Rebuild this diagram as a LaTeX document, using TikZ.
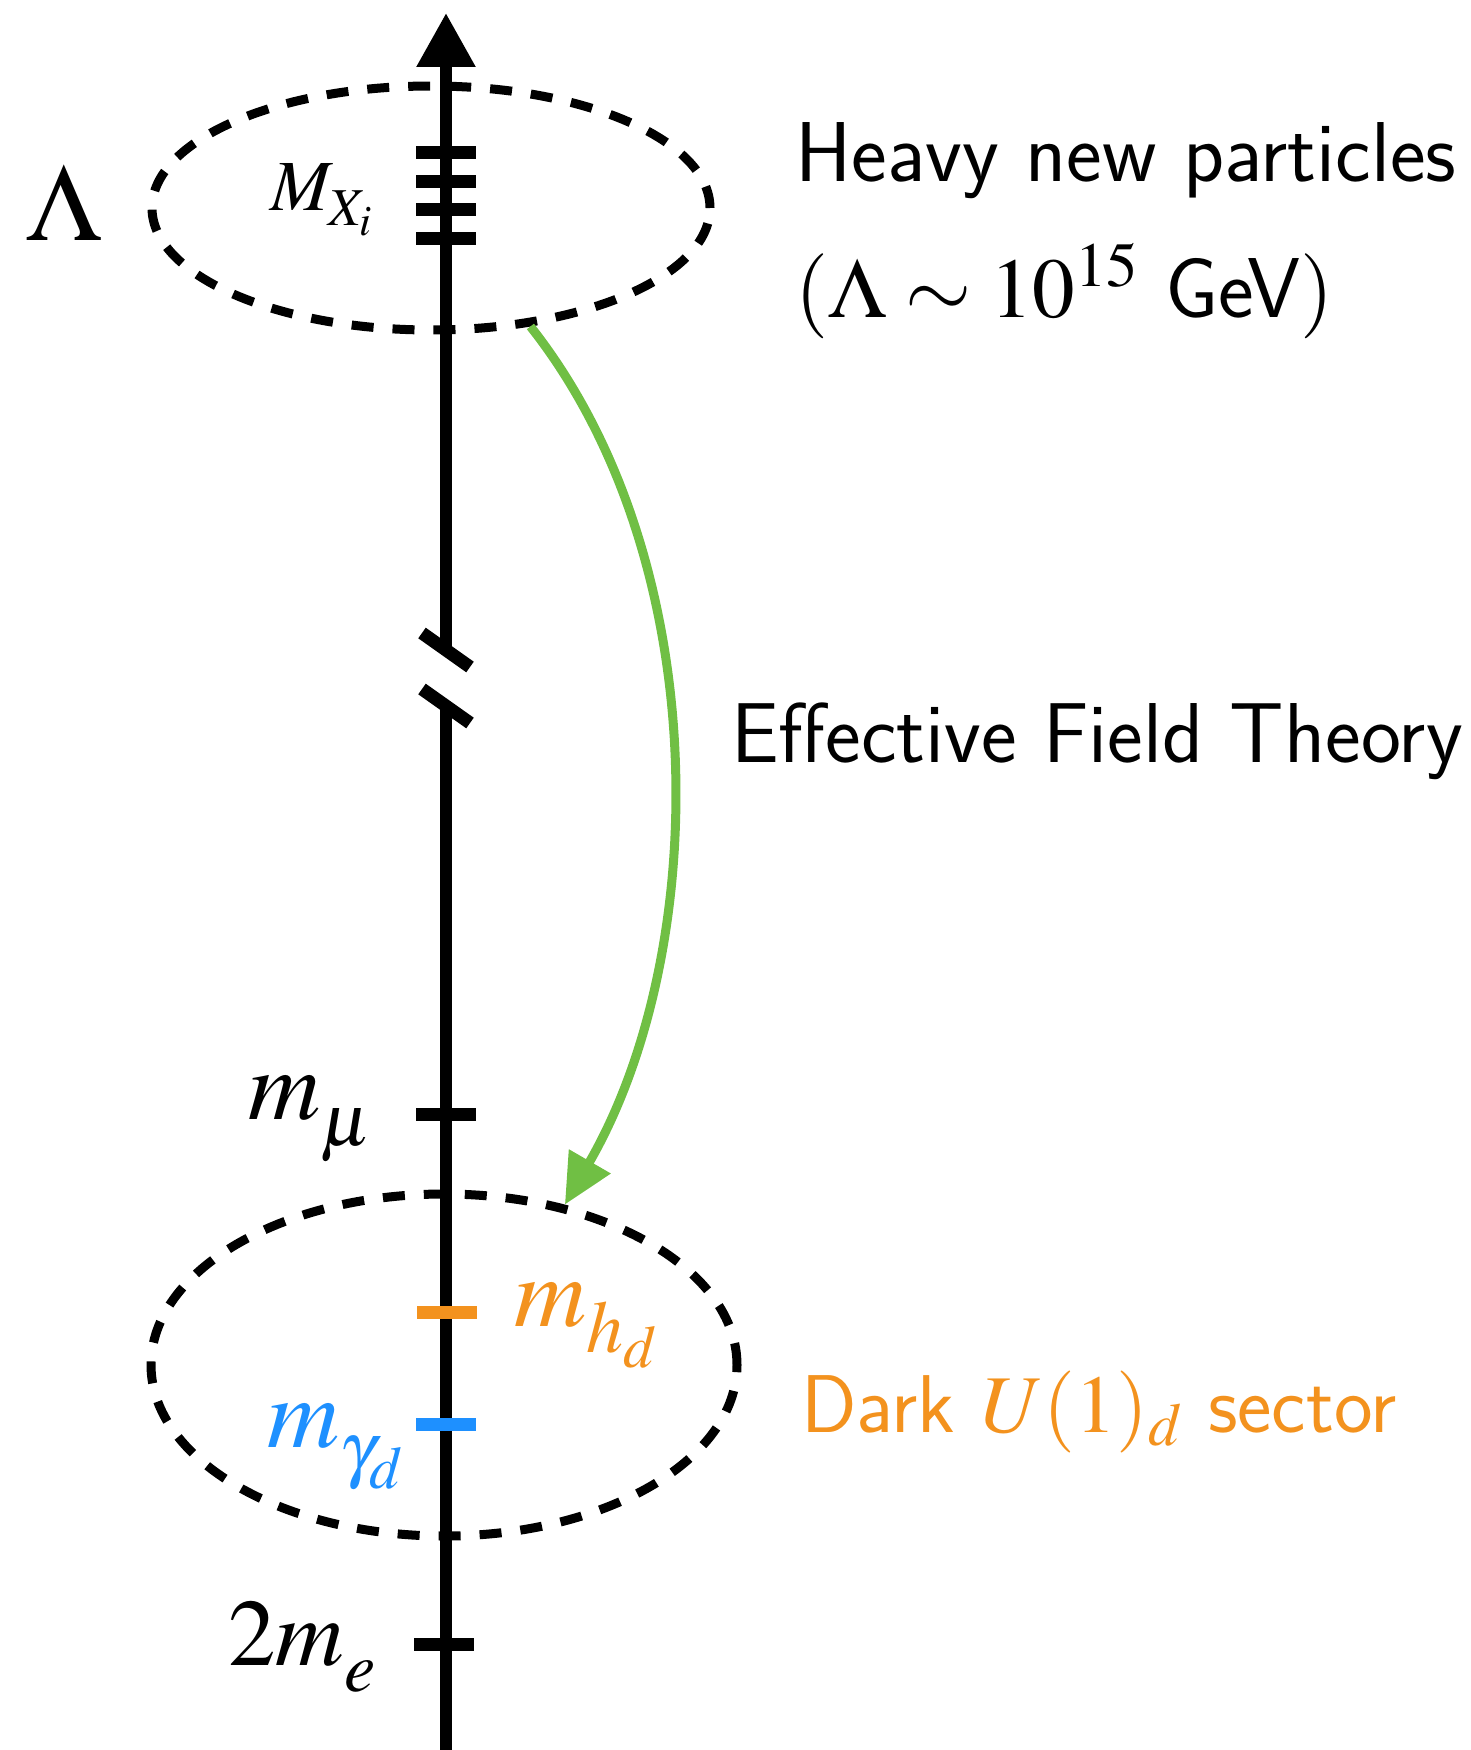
\documentclass[tikz,border=0pt]{standalone}
\usepackage{mathptmx}
\usetikzlibrary{arrows.meta,shapes.geometric}
\definecolor{dorange}{RGB}{243,146,30}
\definecolor{dblue}{RGB}{30,144,255}
\definecolor{egreen}{RGB}{112,191,68}
\newcommand{\lowsub}[2]{\lower#1\hbox{$\scriptstyle #2$}}
\tikzset{
  axisline/.style={line width=12pt},
  tickmark/.style={line width=13pt},
  breakmark/.style={line width=13pt},
  region/.style={ellipse, draw, line width=9pt, dash pattern=on 22pt off 19pt, inner sep=0pt},
  eftarrow/.style={line width=9pt, draw=egreen, -{Triangle[length=50pt,width=46pt,fill=egreen]}},
  sidetext/.style={anchor=base west, inner sep=0pt, font=\fontsize{85}{100}\selectfont\sffamily},
  masslabel/.style={anchor=base west, inner sep=0pt, font=\fontsize{100}{120}\selectfont},
}
\begin{document}
\begin{tikzpicture}[x=1pt,y=-1pt]
\useasboundingbox (0,0) rectangle (1470,1750);

% regions
\node[region, minimum width=558pt, minimum height=244pt] (top) at (431,208) {};
\node[region, minimum width=586pt, minimum height=342pt] (bot) at (444,1365) {};

% axis coordinates
\coordinate (axtop) at (446,13);
\coordinate (brkA) at (446,650);
\coordinate (brkB) at (446,706);
\coordinate (axbot) at (446,1752);
\coordinate (tx1) at (446,152);
\coordinate (tx2) at (446,181);
\coordinate (tx3) at (446,209);
\coordinate (tx4) at (446,238);
\coordinate (tmu) at (446,1114);
\coordinate (thd) at (447,1312);
\coordinate (tgd) at (446,1424);
\coordinate (te) at (444,1644);

% axis
\draw[axisline, -{Triangle[length=54pt,width=56pt]}] (brkA) -- (axtop);
\draw[axisline] (brkB) -- (axbot);
\draw[breakmark] ([shift={(-24pt,17pt)}]brkA) -- ([shift={(24pt,-17pt)}]brkA);
\draw[breakmark] ([shift={(-24pt,17pt)}]brkB) -- ([shift={(24pt,-17pt)}]brkB);

% ticks
\foreach \t in {tx1,tx2,tx3,tx4,tmu,te}
  \draw[tickmark] ([xshift=-30pt]\t) -- ([xshift=30pt]\t);
\draw[tickmark, dorange] ([xshift=-30pt]thd) -- ([xshift=30pt]thd);
\draw[tickmark, dblue] ([xshift=-30pt]tgd) -- ([xshift=30pt]tgd);

% EFT arrow
\draw[eftarrow] (top.-50) .. controls (715,560) and (712,950) .. (bot.53);

% labels
\node[anchor=base, inner sep=0pt, font=\fontsize{110}{130}\selectfont] (lam) at (64,240) {$\Lambda$};
\node[anchor=base west, inner sep=0pt, font=\fontsize{72}{86}\selectfont] (mx) at (270,210) {$M_{\lowsub{5pt}{X_i}}$};
\node[masslabel] (mmu) at (248,1119) {$m_{\lowsub{11pt}{\mu}}$};
\node[masslabel, text=dorange] (mhd) at (514,1326) {$m_{\lowsub{11pt}{h_d}}$};
\node[masslabel, text=dblue] (mgd) at (267,1447) {$m_{\lowsub{11pt}{\gamma_d}}$};
\node[anchor=base west, inner sep=0pt, font=\fontsize{95}{114}\selectfont] (me) at (228,1665) {$2m_{\lowsub{12pt}{e}}$};

\node[sidetext] (heavy) at (795,181) {Heavy new particles};
\node[sidetext] (scale) at (795,317) {$(\Lambda\sim10^{15}$ GeV$)$};
\node[sidetext] (eft) at (731,762) {Effective Field Theory};
\node[sidetext, text=dorange, font=\fontsize{82}{98}\selectfont\sffamily] (dark) at (801,1432) {Dark $U(1)_d$ sector};
\end{tikzpicture}
\end{document}
